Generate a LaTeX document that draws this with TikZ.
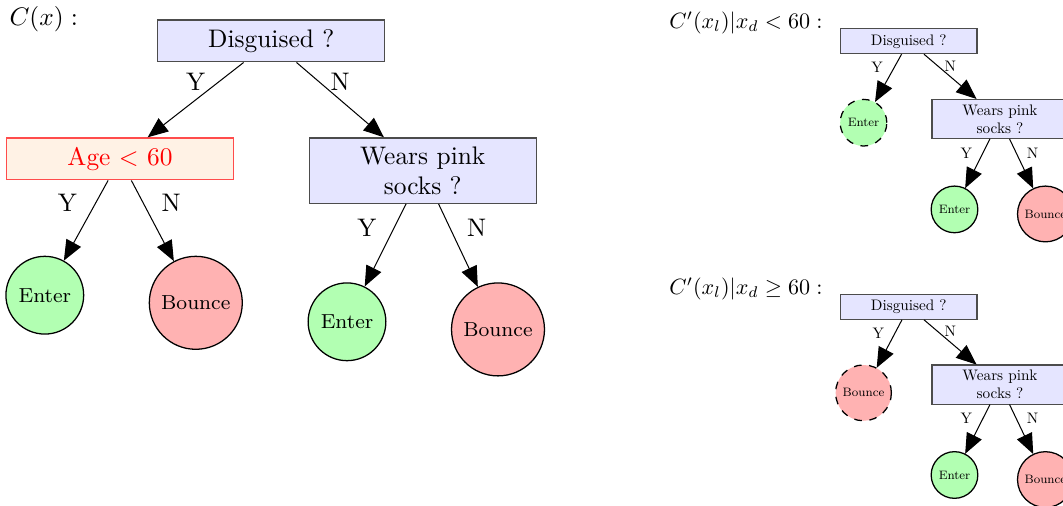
\documentclass[tikz,border=0pt]{standalone}
\usetikzlibrary{arrows.meta}
\begin{document}
\begin{tikzpicture}[x=0.3937pt,y=-0.3937pt,
  question/.style={rectangle,draw=black!70,fill=blue!10,line width=0.5pt,minimum width=89.4pt,minimum height=16.5pt,align=center,anchor=north},
  agebox/.style={question,draw=red!70,fill=orange!10,text=red},
  leaf/.style={circle,draw,line width=0.5pt,inner sep=3.6pt,font=\footnotesize,anchor=north},
  enter/.style={leaf,fill=green!30},
  bounce/.style={leaf,fill=red!30},
  arr/.style={-{Triangle[length=8pt,width=6.5pt]},line width=0.4pt},
  small/.style={scale=0.6},
  smallq/.style={question,small},
]
\useasboundingbox (0,0) rectangle (1063,506);

% full classifier
\node[anchor=base west,inner sep=0] (cx) at (9,26) {$C(x) :$};
\node[question] (dis) at (271.3,19.3) {Disguised ?};
\node[agebox] (age) at (120,137.3) {Age $<$ 60};
\node[question] (socks) at (422.8,137.3) {Wears pink\\socks ?};
\node[enter] (enter1) at (44.8,255.7) {Enter};
\node[bounce] (bounce1) at (195.8,255.7) {Bounce};
\node[enter] (enter2) at (347,282.3) {Enter};
\node[bounce] (bounce2) at (498,282.3) {Bounce};

\draw[arr] (dis) -- node[above] {Y} (age);
\draw[arr] (dis) -- node[above] {N} (socks);
\draw[arr] (age) -- node[above left] {Y} (enter1);
\draw[arr] (age) -- node[above right] {N} (bounce1);
\draw[arr] (socks) -- node[above left] {Y} (enter2);
\draw[arr] (socks) -- node[above right] {N} (bounce2);

% classifiers with x_d fixed
\foreach \i/\dy/\leafstyle/\leaftext/\rel in {a/0/enter/Enter/<,b/265.6/bounce/Bounce/\geq}
{
\node[anchor=base west,inner sep=0,scale=0.87] (c\i) at (669,28.5+\dy) {$C'(x_l)|x_d \rel 60 :$};
\node[smallq] (dis\i) at (908.8,28.3+\dy) {Disguised ?};
\node[\leafstyle,small,dashed] (first\i) at (863.5,99+\dy) {\leaftext};
\node[smallq] (socks\i) at (1000,99+\dy) {Wears pink\\socks ?};
\node[enter,small] (enter\i) at (954.5,185.7+\dy) {Enter};
\node[bounce,small] (bounce\i) at (1045.4,185.7+\dy) {Bounce};

\draw[arr] (dis\i) -- node[above left,small] {Y} (first\i);
\draw[arr] (dis\i) -- node[above,small] {N} (socks\i);
\draw[arr] (socks\i) -- node[above left,small] {Y} (enter\i);
\draw[arr] (socks\i) -- node[above right,small] {N} (bounce\i);
}
\end{tikzpicture}
\end{document}
